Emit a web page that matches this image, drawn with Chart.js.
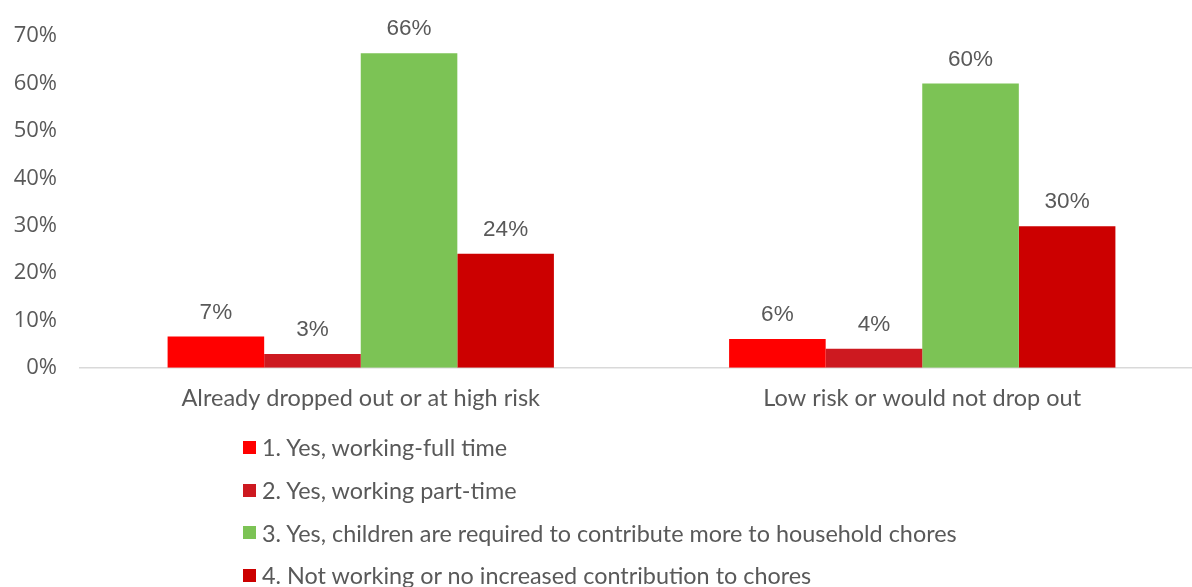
<!DOCTYPE html>
<html>
<head>
<meta charset="utf-8">
<script src="https://cdn.jsdelivr.net/npm/chart.js@4/dist/chart.umd.min.js"></script>
<style>
  html, body { margin: 0; padding: 0; background: #fff; overflow: hidden; }
  #wrap { position: relative; width: 1210px; height: 587px; }
  #chart-box { position: absolute; left: 0; top: 0; width: 1210px; height: 430px; }
  #legend { position: absolute; left: 243px; top: 426px; margin: 0; padding: 0; list-style: none;
            font-family: Lato, "Noto Sans", sans-serif; font-size: 23.4px; color: #595959; }
  #legend li { height: 42.7px; line-height: 30px; display: flex; align-items: center; }
  #legend .box { width: 13px; height: 13px; margin-right: 6px; flex: none; }
</style>
</head>
<body>
<div id="wrap">
  <div id="chart-box"><canvas id="c"></canvas></div>
  <ul id="legend"></ul>
</div>
<script>
// ── Data ──────────────────────────────────────────────────────────────────────
const categories = ['Already dropped out or at high risk', 'Low risk or would not drop out'];
const seriesNames = [
  '1. Yes, working-full time',
  '2. Yes, working part-time',
  '3. Yes, children are required to contribute more to household chores',
  '4. Not working or no increased contribution to chores',
];
const fullTime   = [6.6, 6.1];
const partTime   = [2.9, 4.0];
const chores     = [66.4, 60.0];
const notWorking = [24.1, 29.9];
const yTicks     = [0, 10, 20, 30, 40, 50, 60, 70];

const colors = ['#FF0000', '#CD1920', '#7CC355', '#CC0000'];
const textGrey = '#595959';

// ── Value labels above bars ───────────────────────────────────────────────────
const barLabels = {
  id: 'barLabels',
  afterDatasetsDraw(chart) {
    const ctx = chart.ctx;
    ctx.save();
    ctx.font = '22.5px "Liberation Sans", Arial, sans-serif';
    ctx.fillStyle = textGrey;
    ctx.textAlign = 'center';
    ctx.textBaseline = 'middle';
    chart.data.datasets.forEach((ds, i) => {
      chart.getDatasetMeta(i).data.forEach((bar, j) => {
        ctx.fillText(Math.round(ds.data[j]) + '%', bar.x, bar.y - 24);
      });
    });
    ctx.restore();
  }
};

const datasets = [fullTime, partTime, chores, notWorking].map((vals, i) => ({
  label: seriesNames[i],
  data: vals,
  backgroundColor: colors[i],
  borderWidth: 0,
  categoryPercentage: 0.688,
  barPercentage: 1.0,
}));

new Chart(document.getElementById('c'), {
  type: 'bar',
  data: { labels: categories, datasets },
  options: {
    responsive: true,
    maintainAspectRatio: false,
    animation: false,
    layout: { padding: { top: 34, right: 7, left: 0, bottom: 0 } },
    plugins: { legend: { display: false }, tooltip: { enabled: false } },
    scales: {
      x: {
        grid: { display: false, drawTicks: false },
        border: { color: '#D9D9D9', width: 1.5 },
        ticks: { color: textGrey, padding: 17,
                 font: { family: 'Lato, "Noto Sans", sans-serif', size: 23.5 } },
      },
      y: {
        min: 0, max: 70,
        afterFit(scale) { scale.width = 80; },
        afterBuildTicks(scale) { scale.ticks = yTicks.map(v => ({ value: v })); },
        grid: { display: false, drawTicks: false },
        border: { display: false },
        ticks: { color: textGrey, padding: 23, callback: v => v + '%',
                 font: { family: '"Open Sans", sans-serif', size: 22 } },
      },
    },
  },
  plugins: [barLabels],
});

// ── HTML legend, one item per line ────────────────────────────────────────────
const legendEl = document.getElementById('legend');
seriesNames.forEach((name, i) => {
  const li = document.createElement('li');
  const box = document.createElement('span');
  box.className = 'box';
  box.style.background = colors[i];
  li.appendChild(box);
  li.appendChild(document.createTextNode(name));
  legendEl.appendChild(li);
});
</script>
</body>
</html>
